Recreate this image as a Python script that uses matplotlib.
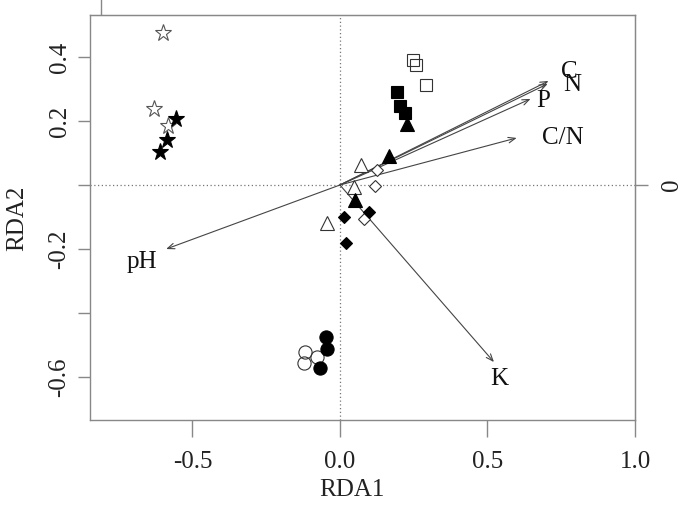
import numpy as np
import matplotlib
matplotlib.use('Agg')
import matplotlib.pyplot as plt

plt.rcParams['font.family'] = ['Liberation Serif', 'DejaVu Serif']

# site scores (RDA1, RDA2), one group per treatment, open / filled symbol
star_open_x = [-0.599, -0.630, -0.582]
star_open_y = [0.475, 0.238, 0.184]
star_fill_x = [-0.556, -0.586, -0.609]
star_fill_y = [0.206, 0.141, 0.103]

square_open_x = [0.246, 0.259, 0.293]
square_open_y = [0.391, 0.375, 0.313]
square_fill_x = [0.192, 0.205, 0.222]
square_fill_y = [0.291, 0.247, 0.225]

tri_open_x = [0.071, 0.047, -0.044]
tri_open_y = [0.063, -0.006, -0.119]
tri_fill_x = [0.229, 0.168, 0.051]
tri_fill_y = [0.191, 0.091, -0.047]

diam_open_x = [0.125, 0.118, 0.081]
diam_open_y = [0.047, -0.003, -0.106]
diam_fill_x = [0.013, 0.098, 0.020]
diam_fill_y = [-0.100, -0.084, -0.181]

circ_open_x = [-0.118, -0.121, -0.077]
circ_open_y = [-0.522, -0.556, -0.538]
circ_fill_x = [-0.047, -0.044, -0.067]
circ_fill_y = [-0.475, -0.513, -0.572]

# environmental vectors (biplot arrows) and where their labels sit
env_names = ['C', 'N', 'P', 'C/N', 'pH', 'K']
env_x = [0.707, 0.704, 0.646, 0.599, -0.589, 0.522]
env_y = [0.325, 0.316, 0.269, 0.147, -0.200, -0.553]
lab_x = [0.778, 0.787, 0.690, 0.757, -0.670, 0.540]
lab_y = [0.354, 0.313, 0.262, 0.148, -0.240, -0.605]

xticks = [-0.5, 0.0, 0.5, 1.0]
xticklabels = ['-0.5', '0.0', '0.5', '1.0']
yticks = [0.4, 0.2, 0.0, -0.2, -0.4, -0.6]
yticklabels = ['0.4', '0.2', '', '-0.2', '', '-0.6']

fig = plt.figure(figsize=(6.85, 5.2), dpi=100)
ax = fig.add_axes([90 / 685, 1 - 420 / 520, 545 / 685, 405 / 520])
ax.set_xlim(-0.847, 1.0)
ax.set_ylim(-0.734, 0.531)

frame = '#888888'
for s in ax.spines.values():
    s.set_color(frame)
    s.set_linewidth(1.0)

ax.axhline(0, color='#777777', ls=(0, (1, 2)), lw=0.9, zorder=1)
ax.axvline(0, color='#777777', ls=(0, (1, 2)), lw=0.9, zorder=1)

# arrows
for x, y in zip(env_x, env_y):
    ax.annotate('', xy=(x, y), xytext=(0, 0),
                arrowprops=dict(arrowstyle='->,head_length=0.5,head_width=0.2',
                                color='#444444', lw=0.8, shrinkA=0, shrinkB=0),
                zorder=2)
for name, x, y in zip(env_names, lab_x, lab_y):
    ax.text(x, y, name, fontsize=18, ha='center', va='center', color='#111111', zorder=3)

edge = '#333333'
mew = 0.8
ax.plot(star_open_x, star_open_y, '*', ms=12.5, mfc='white', mec='#555555', mew=mew, ls='none', zorder=4)
ax.plot(star_fill_x, star_fill_y, '*', ms=12.5, mfc='black', mec='black', mew=mew, ls='none', zorder=4)
ax.plot(square_open_x, square_open_y, 's', ms=9, mfc='none', mec=edge, mew=mew, ls='none', zorder=4)
ax.plot(square_fill_x, square_fill_y, 's', ms=9, mfc='black', mec='black', mew=mew, ls='none', zorder=4)
ax.plot(tri_open_x, tri_open_y, '^', ms=10, mfc='white', mec=edge, mew=mew, ls='none', zorder=4)
ax.plot(tri_fill_x, tri_fill_y, '^', ms=10, mfc='black', mec='black', mew=mew, ls='none', zorder=4)
ax.plot(diam_open_x, diam_open_y, 'D', ms=6.5, mfc='white', mec=edge, mew=mew, ls='none', zorder=4)
ax.plot(diam_fill_x, diam_fill_y, 'D', ms=6.5, mfc='black', mec='black', mew=mew, ls='none', zorder=4)
ax.plot(circ_open_x, circ_open_y, 'o', ms=9.5, mfc='none', mec=edge, mew=mew, ls='none', zorder=4)
ax.plot(circ_fill_x, circ_fill_y, 'o', ms=9.5, mfc='black', mec='black', mew=mew, ls='none', zorder=4)

# axes: bottom / left like R, plus the stray right and top ticks
ax.set_xticks(xticks)
ax.set_xticklabels(xticklabels)
ax.set_yticks(yticks)
ax.set_yticklabels(yticklabels, rotation=90, va='center')
ax.tick_params(axis='x', length=12, width=1, color=frame, labelsize=18, pad=10, labelcolor='#222222')
ax.tick_params(axis='y', length=9, width=1, color=frame, labelsize=18, pad=5, labelcolor='#222222')

ax_r = ax.secondary_yaxis('right')
ax_r.set_yticks([0.0])
ax_r.set_yticklabels(['0'], rotation=90, va='center')
ax_r.spines['right'].set_color(frame)
ax_r.tick_params(length=9, width=1, color=frame, labelsize=18, pad=10, labelcolor='#222222')

ax_t = ax.secondary_xaxis('top')
ax_t.set_xticks([-0.81])
ax_t.set_xticklabels([''])
ax_t.spines['top'].set_color(frame)
ax_t.tick_params(length=12, width=1, color=frame)

fig.text(352 / 685, 1 - 490 / 520, 'RDA1', fontsize=18, ha='center', va='center', color='#222222')
fig.text(17 / 685, 1 - 218 / 520, 'RDA2', fontsize=18, ha='center', va='center',
         rotation=90, color='#222222')

fig.savefig('out.png', dpi=100)
